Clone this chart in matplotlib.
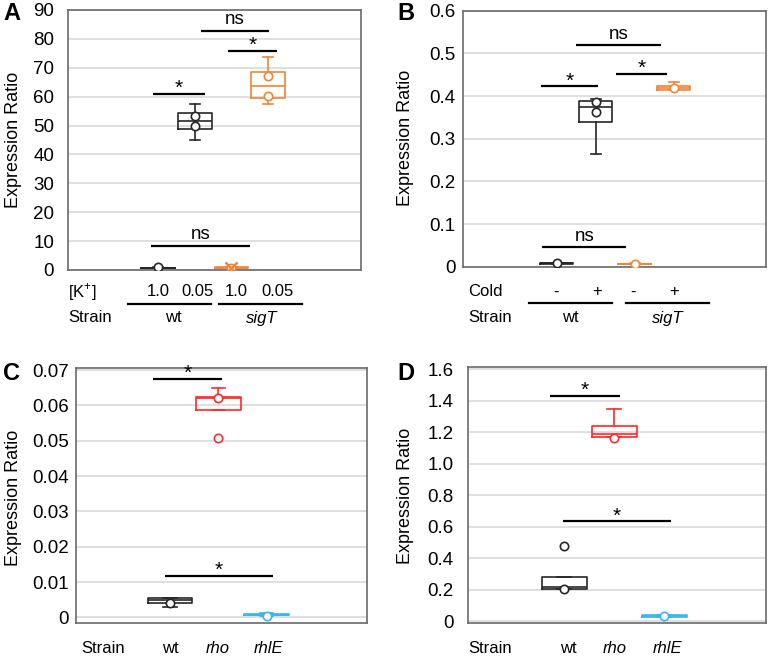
import numpy as np
import matplotlib
matplotlib.use("Agg")
import matplotlib.pyplot as plt
from matplotlib.lines import Line2D

plt.rcParams["font.family"] = ["Liberation Sans", "DejaVu Sans"]
plt.rcParams["mathtext.fontset"] = "custom"
plt.rcParams["mathtext.rm"] = "Liberation Sans"

W, H = 771, 656

BLACK = "#262626"
ORANGE = "#F08536"
RED = "#FF2A2A"
BLUE = "#3BB4EA"

# ---- panel A: [K+] ----
a_stats = [  # whislo, q1, med, q3, whishi
    (0.7, 0.75, 0.8, 0.85, 0.9),
    (45.0, 48.7, 51.7, 54.5, 57.4),
    (0.6, 0.7, 0.8, 0.9, 1.0),
    (57.4, 59.7, 63.8, 68.7, 73.6),
]
a_points = [[0.9], [53.3, 50.0], [0.7], [67.0, 60.4]]
a_fliers = [[], [], [], []]
a_means = [None, None, 0.8, None]
a_colors = [BLACK, BLACK, ORANGE, ORANGE]
a_sig = [(0.86, 2.28, 61.0, "*"), (2.90, 4.25, 75.7, "*"),
         (2.16, 4.03, 82.9, "ns"), (0.80, 3.51, 8.45, "ns")]
a_ticks = [0, 10, 20, 30, 40, 50, 60, 70, 80, 90]
a_ticklabels = ["0", "10", "20", "30", "40", "50", "60", "70", "80", "90"]

# ---- panel B: cold ----
b_stats = [
    (0.007, 0.0075, 0.008, 0.0085, 0.009),
    (0.2645, 0.338, 0.374, 0.388, 0.393),
    (0.006, 0.0065, 0.007, 0.0075, 0.008),
    (0.413, 0.415, 0.420, 0.424, 0.432),
]
b_points = [[0.008], [0.385, 0.362], [0.007], [0.418]]
b_fliers = [[], [], [], []]
b_means = [None, None, None, None]
b_colors = [BLACK, BLACK, ORANGE, ORANGE]
b_sig = [(0.60, 2.06, 0.4225, "*"), (2.51, 3.83, 0.452, "*"),
         (1.51, 3.67, 0.520, "ns"), (0.63, 2.79, 0.046, "ns")]
b_ticks = [0, 0.1, 0.2, 0.3, 0.4, 0.5, 0.6]
b_ticklabels = ["0", "0.1", "0.2", "0.3", "0.4", "0.5", "0.6"]

# ---- panel C ----
c_stats = [
    (0.0030, 0.0041, 0.0049, 0.0056, 0.0056),
    (0.0587, 0.0587, 0.0620, 0.0625, 0.0649),
    (0.0005, 0.0007, 0.0008, 0.0009, 0.0013),
]
c_points = [[0.0042], [0.0620], [0.0003]]
c_fliers = [[], [0.0509], []]
c_means = [None, None, None]
c_colors = [BLACK, RED, BLUE]
c_sig = [(0.64, 2.08, 0.0674, "*"), (0.90, 3.13, 0.0117, "*")]
c_ticks = [0, 0.01, 0.02, 0.03, 0.04, 0.05, 0.06, 0.07]
c_ticklabels = ["0", "0.01", "0.02", "0.03", "0.04", "0.05", "0.06", "0.07"]

# ---- panel D ----
d_stats = [
    (0.2025, 0.2025, 0.215, 0.2825, 0.2825),
    (1.171, 1.171, 1.187, 1.239, 1.345),
    (0.030, 0.030, 0.035, 0.040, 0.040),
]
d_points = [[0.205], [1.165], [0.035]]
d_fliers = [[0.477], [], []]
d_means = [None, None, None]
d_colors = [BLACK, RED, BLUE]
d_sig = [(0.71, 2.11, 1.43, "*"), (0.97, 3.13, 0.634, "*")]
d_ticks = [0, 0.2, 0.4, 0.6, 0.8, 1.0, 1.2, 1.4, 1.6]
d_ticklabels = ["0", "0.2", "0.4", "0.6", "0.8", "1.0", "1.2", "1.4", "1.6"]

strains_ab = ["wt", "sigT"]
k_labels = ["1.0", "0.05", "1.0", "0.05"]
cold_labels = ["-", "+", "-", "+"]
strains_cd = ["wt", "rho", "rhlE"]


def fx(x):
    return x / W


def fy(y):
    return 1 - y / H


def make_axes(fig, x0, y0, x1, y1):
    return fig.add_axes([fx(x0), fy(y1), fx(x1) - fx(x0), fy(y0) - fy(y1)])


def draw_panel(ax, stats, points, fliers, means, colors, sig, ticks, ticklabels,
               xlim, ylim, width, pad):
    ax.set_xlim(*xlim)
    ax.set_ylim(*ylim)
    ax.set_yticks(ticks)
    ax.set_yticklabels(ticklabels)
    ax.set_xticks([])
    ax.tick_params(axis="y", length=0, labelsize=13.5, pad=pad)
    ax.yaxis.grid(True, color="#D9D9D9", lw=1.2)
    ax.set_axisbelow(True)
    for s in ax.spines.values():
        s.set_color("#6A6A6A")
        s.set_linewidth(1.2)

    for i, (st, col) in enumerate(zip(stats, colors)):
        pos = i + 1
        d = dict(whislo=st[0], q1=st[1], med=st[2], q3=st[3], whishi=st[4],
                 fliers=fliers[i])
        lp = dict(color=col, lw=1.2)
        ax.bxp([d], positions=[pos], widths=width, capwidths=width * 0.3,
               boxprops=lp, medianprops=lp, whiskerprops=lp, capprops=lp,
               flierprops=dict(marker="o", mfc="white", mec=col, ms=6,
                               mew=1.2),
               manage_ticks=False)
        ax.plot(np.full(len(points[i]), pos), points[i], "o", mfc="white",
                mec=col, ms=6, mew=1.2, zorder=4)
        if means[i] is not None:
            ax.plot([pos], [means[i]], "x", color=col, ms=8, mew=1.8, zorder=4)

    for x0, x1, y, lab in sig:
        ax.plot([x0, x1], [y, y], color="black", lw=1.6, solid_capstyle="butt")
        if lab == "*":
            ax.annotate(lab, ((x0 + x1) / 2, y), xytext=(0, 0),
                        textcoords="offset points", ha="center",
                        va="baseline", fontsize=15)
        else:
            ax.annotate(lab, ((x0 + x1) / 2, y), xytext=(0, 4.5),
                        textcoords="offset points", ha="center",
                        va="baseline", fontsize=13.5)


fig = plt.figure(figsize=(W / 100, H / 100), dpi=100)

ax_a = make_axes(fig, 68, 10, 361, 270)
draw_panel(ax_a, a_stats, a_points, a_fliers, a_means, a_colors, a_sig,
           a_ticks, a_ticklabels, (-1.45, 6.53), (0, 90), 0.92, 10)

ax_b = make_axes(fig, 462.7, 10.7, 766, 266.7)
draw_panel(ax_b, b_stats, b_points, b_fliers, b_means, b_colors, b_sig,
           b_ticks, b_ticklabels, (-1.40, 6.36), (0, 0.6), 0.84, 5)

ax_c = make_axes(fig, 76, 368.3, 366.7, 622.7)
draw_panel(ax_c, c_stats, c_points, c_fliers, c_means, c_colors, c_sig,
           c_ticks, c_ticklabels, (-0.946, 5.07), (-0.0015, 0.0705), 0.92, 5)

ax_d = make_axes(fig, 467.7, 367.3, 766, 623.3)
draw_panel(ax_d, d_stats, d_points, d_fliers, d_means, d_colors, d_sig,
           d_ticks, d_ticklabels, (-0.93, 5.04), (-0.013, 1.612), 0.9, 10)


def ftext(x, y, s, **kw):
    kw.setdefault("fontsize", 12)
    kw.setdefault("va", "center")
    fig.text(fx(x), fy(y), s, **kw)


def fline(x0, x1, y):
    fig.add_artist(Line2D([fx(x0), fx(x1)], [fy(y), fy(y)], color="black",
                          lw=1.6, transform=fig.transFigure))


# panel letters and y labels
for letter, x, y in [("A", 3, 14), ("B", 397, 14), ("C", 3, 374), ("D", 397, 374)]:
    ftext(x, y, letter, fontsize=17, fontweight="bold", ha="left")
for x, y in [(14, 140), (405, 138), (14, 498), (406, 496)]:
    ftext(x, y, "Expression Ratio", fontsize=13, rotation=90, ha="center")

# panel A category labels
ftext(68, 292, r"[K$^{\mathregular{+}}$]", ha="left")
for x, s in zip([158, 197.5, 236.7, 278], k_labels):
    ftext(x, 292, s, ha="center")
fline(128, 211, 304)
fline(219, 302, 304)
ftext(68, 318, "Strain", ha="left")
ftext(173, 318, strains_ab[0], ha="center")
ftext(262, 318, strains_ab[1], ha="center", style="italic")

# panel B category labels
ftext(467.7, 292, "Cold", ha="left")
for x, s in zip([556, 597, 633, 674], cold_labels):
    ftext(x, 292, s, ha="center")
fline(529, 612.3, 303.3)
fline(625.7, 709, 303.3)
ftext(468, 318, "Strain", ha="left")
ftext(570.7, 318, strains_ab[0], ha="center")
ftext(667.7, 318, strains_ab[1], ha="center", style="italic")

# panels C and D strain labels
ftext(81, 648.3, "Strain", ha="left")
for x, s in zip([170, 218, 269], strains_cd):
    ftext(x, 648.3, s, ha="center", style="normal" if s == "wt" else "italic")
ftext(468.3, 648.3, "Strain", ha="left")
for x, s in zip([568.3, 615, 667.7], strains_cd):
    ftext(x, 648.3, s, ha="center", style="normal" if s == "wt" else "italic")

fig.savefig("out.png", dpi=100)
